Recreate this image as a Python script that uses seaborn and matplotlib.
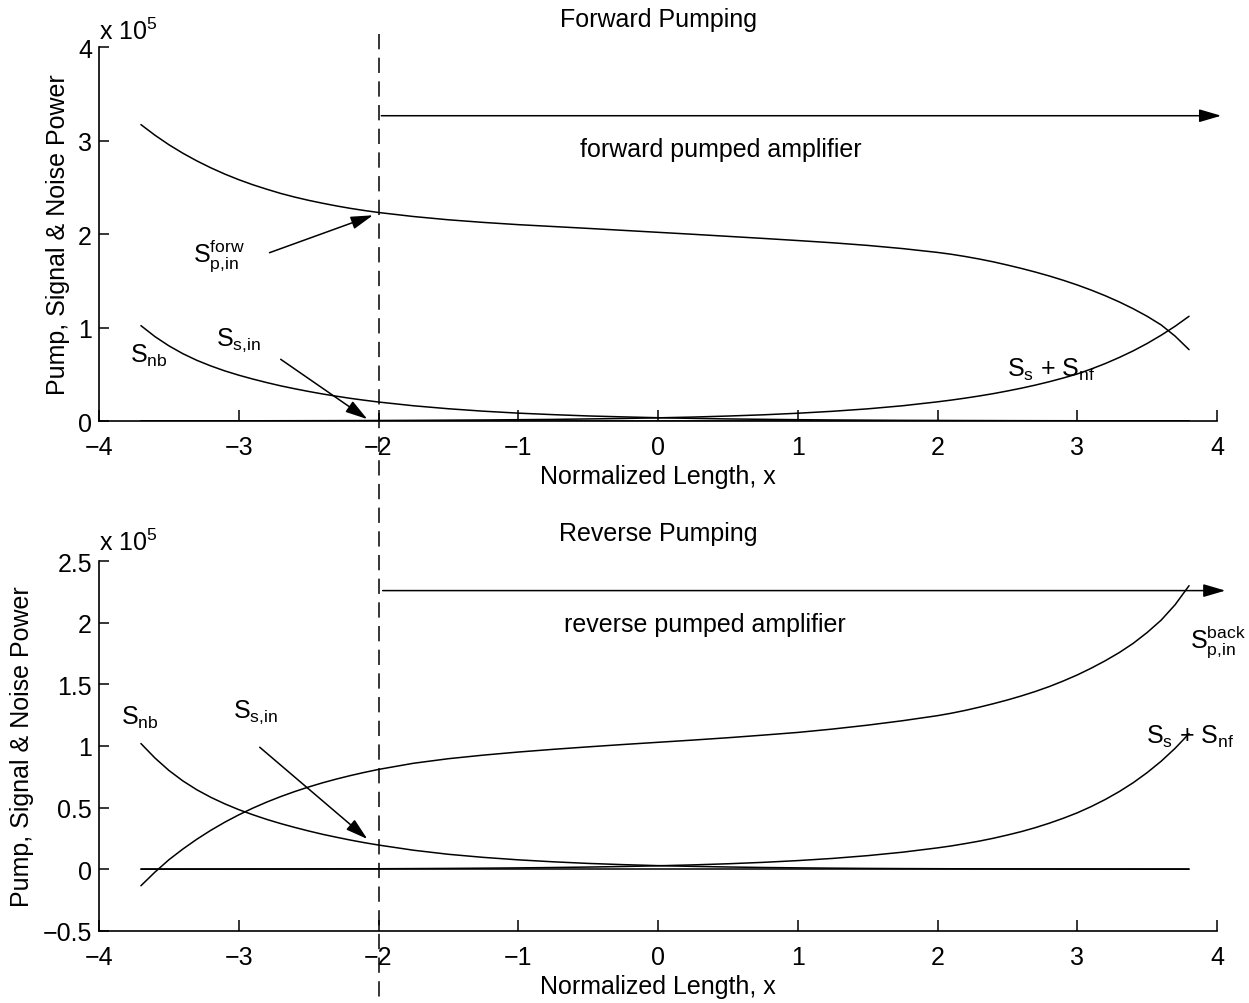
import numpy as np
import pandas as pd
import matplotlib
matplotlib.use("Agg")
import matplotlib.pyplot as plt
import matplotlib.transforms as mtransforms
from matplotlib.lines import Line2D
from matplotlib.ticker import FuncFormatter, FixedLocator
import seaborn as sns

# Normalized position along the fibre
x_pos = [-3.7, -3.6, -3.5, -3.4, -3.3, -3.2, -3.1, -3.0, -2.9, -2.8, -2.7,
         -2.6, -2.5, -2.4, -2.3, -2.2, -2.1, -2.0,
         -1.75, -1.5, -1.25, -1.0, -0.75, -0.5, -0.25, 0.0, 0.25, 0.5, 0.75,
         1.0, 1.25, 1.5, 1.75,
         2.0, 2.1, 2.2, 2.3, 2.4, 2.5, 2.6, 2.7, 2.8, 2.9, 3.0, 3.1, 3.2,
         3.3, 3.4, 3.5, 3.6, 3.7, 3.8]

# Forward pumping (powers in units of 1e5)
pump_fwd = [3.17, 3.057, 2.955, 2.864, 2.782, 2.708, 2.641, 2.581, 2.527,
            2.479, 2.434, 2.395, 2.360, 2.329, 2.300, 2.274, 2.251, 2.230,
            2.187, 2.152, 2.124, 2.100, 2.080, 2.060, 2.039, 2.018, 1.997,
            1.975, 1.953, 1.930, 1.906, 1.878, 1.844,
            1.803, 1.783, 1.759, 1.732, 1.702, 1.668, 1.632, 1.593, 1.551,
            1.505, 1.455, 1.400, 1.340, 1.274, 1.201, 1.120, 1.028, 0.908,
            0.763]
noise_back_fwd = [1.02, 0.903, 0.804, 0.720, 0.649, 0.589, 0.536, 0.490, 0.449,
                  0.411, 0.376, 0.345, 0.316, 0.289, 0.265, 0.242, 0.222, 0.203,
                  0.163, 0.131, 0.105, 0.084, 0.068, 0.054, 0.044, 0.035, 0.028,
                  0.022, 0.018, 0.014, 0.011, 0.009, 0.007,
                  0.006, 0.0055, 0.005, 0.0047, 0.0044, 0.004, 0.0037, 0.0034,
                  0.0031, 0.0029, 0.0027, 0.0025, 0.0023, 0.0021, 0.0019,
                  0.0017, 0.0016, 0.0014, 0.0013]
sig_noise_fwd = [0.0012, 0.0013, 0.0014, 0.0015, 0.0017, 0.0018, 0.002, 0.0022,
                 0.0024, 0.0026, 0.0029, 0.0032, 0.0035, 0.0038, 0.0042,
                 0.0046, 0.005, 0.0055,
                 0.007, 0.009, 0.011, 0.014, 0.017, 0.022, 0.027, 0.034, 0.042,
                 0.053, 0.066, 0.083, 0.104, 0.130, 0.163,
                 0.205, 0.224, 0.245, 0.268, 0.293, 0.321, 0.351, 0.384, 0.420,
                 0.460, 0.503, 0.556, 0.614, 0.679, 0.750, 0.829, 0.917, 1.013,
                 1.12]

# Reverse pumping (powers in units of 1e5)
pump_rev = [-0.133, -0.023, 0.0775, 0.1645, 0.244, 0.3164, 0.3821, 0.4417,
            0.4959, 0.5451, 0.5898, 0.6305, 0.6677, 0.7016, 0.7323, 0.7605,
            0.7863, 0.81,
            0.86, 0.897, 0.926, 0.951, 0.973, 0.993, 1.012, 1.03, 1.048, 1.067,
            1.088, 1.11, 1.1375, 1.169, 1.205,
            1.246, 1.266, 1.289, 1.315, 1.343, 1.373, 1.406, 1.442, 1.482,
            1.527, 1.576, 1.631, 1.691, 1.757, 1.832, 1.920, 2.020, 2.145,
            2.300]
noise_back_rev = [1.02, 0.903, 0.802, 0.717, 0.645, 0.584, 0.531, 0.484, 0.443,
                  0.405, 0.371, 0.340, 0.311, 0.284, 0.260, 0.237, 0.216, 0.197,
                  0.155, 0.122, 0.097, 0.077, 0.061, 0.048, 0.038, 0.030, 0.024,
                  0.019, 0.015, 0.012, 0.0095, 0.0075, 0.006,
                  0.005, 0.0046, 0.0042, 0.0039, 0.0036, 0.0033, 0.003, 0.0028,
                  0.0026, 0.0024, 0.0022, 0.002, 0.0018, 0.0017, 0.0015, 0.0014,
                  0.0013, 0.0012, 0.0011]
sig_noise_rev = [0.0011, 0.0012, 0.0013, 0.0014, 0.0015, 0.0016, 0.0018,
                 0.0019, 0.0021, 0.0023, 0.0025, 0.0027, 0.003, 0.0033, 0.0036,
                 0.004, 0.0044, 0.0048,
                 0.006, 0.0075, 0.0094, 0.0117, 0.0147, 0.0184, 0.023, 0.0288,
                 0.036, 0.0451, 0.0565, 0.0708, 0.0886, 0.111, 0.139,
                 0.174, 0.190, 0.209, 0.229, 0.252, 0.278, 0.306, 0.338, 0.374,
                 0.414, 0.458, 0.509, 0.566, 0.630, 0.702, 0.784, 0.876, 0.981,
                 1.10]

# Input signal level (flat along the fibre)
signal_in = [0.0] * len(x_pos)

x_ticks = [-4, -3, -2, -1, 0, 1, 2, 3, 4]
y_ticks_fwd = [0, 1, 2, 3, 4]
y_ticks_rev = [-0.5, 0, 0.5, 1, 1.5, 2, 2.5]

sns.set_theme(style="ticks")
plt.rcParams["font.family"] = ["Liberation Sans", "DejaVu Sans"]
plt.rcParams["font.size"] = 18
plt.rcParams["text.color"] = "black"
plt.rcParams["axes.labelcolor"] = "black"
plt.rcParams["mathtext.fontset"] = "custom"
plt.rcParams["mathtext.rm"] = "Liberation Sans"
plt.rcParams["mathtext.it"] = "Liberation Sans"
plt.rcParams["mathtext.bf"] = "Liberation Sans:bold"
plt.rcParams["axes.unicode_minus"] = True

W, H = 1249, 1004
fig = plt.figure(figsize=(W / 100, H / 100), dpi=100)
ax1 = fig.add_axes([99 / W, 1 - 422 / H, (1217 - 99) / W, (422 - 48) / H])
ax2 = fig.add_axes([99 / W, 1 - 932 / H, (1217 - 99) / W, (932 - 562) / H])

LW = 1.1
fmt = FuncFormatter(lambda v, p: f"{v:g}".replace("-", "\u2212"))


def style_axes(ax, ylim, yticks, title):
    ax.set_xlim(-4, 4)
    ax.set_ylim(*ylim)
    ax.xaxis.set_major_locator(FixedLocator(x_ticks))
    ax.yaxis.set_major_locator(FixedLocator(yticks))
    ax.xaxis.set_major_formatter(fmt)
    ax.yaxis.set_major_formatter(fmt)
    for s in ("top", "right"):
        ax.spines[s].set_visible(False)
    for s in ("left", "bottom"):
        ax.spines[s].set_linewidth(1.2)
        ax.spines[s].set_color("black")
    ax.tick_params(axis="x", direction="in", length=8, width=1.1, pad=10,
                   labelsize=18, colors="black")
    ax.tick_params(axis="y", direction="in", length=7.5, width=1.1, pad=5,
                   labelsize=18, colors="black")
    ax.set_xlabel("Normalized Length, x", fontsize=18, labelpad=4,
                  color="black")
    ax.set_ylabel("Pump, Signal & Noise Power", fontsize=18, labelpad=6,
                  color="black")
    ax.set_title(title, fontsize=18, pad=15, color="black")
    ax.set_facecolor("white")


def curve(ax, y):
    sns.lineplot(x=x_pos, y=y, ax=ax, color="black", linewidth=LW,
                 sort=False, estimator=None, legend=False)


def arrow(ax, tail, tip):
    ax.annotate("", xy=tip, xytext=tail, annotation_clip=False,
                arrowprops=dict(arrowstyle="-|>,head_length=0.75,head_width=0.22",
                                mutation_scale=18, color="black", lw=LW,
                                shrinkA=0, shrinkB=0))


def label(ax, x, y, s):
    ax.text(x, y, s, fontsize=18, ha="left", va="baseline", color="black")


S_NB = r"$\mathrm{S}_{\mathrm{nb}}$"
S_SIN = r"$\mathrm{S}_{\mathrm{s{,}in}}$"
S_SUM = r"$\mathrm{S}_{\mathrm{s}}$ + $\mathrm{S}_{\mathrm{nf}}$"

# ---- Forward pumping ----
for series in (pump_fwd, noise_back_fwd, sig_noise_fwd, signal_in):
    curve(ax1, series)
style_axes(ax1, (0, 4), y_ticks_fwd, "Forward Pumping")
arrow(ax1, (-1.98, 3.265), (4.03, 3.265))
label(ax1, -0.56, 2.83, "forward pumped amplifier")
arrow(ax1, (-2.78, 1.80), (-2.04, 2.20))
label(ax1, -3.33, 1.71, r"$\mathrm{S}^{\mathrm{forw}}_{\mathrm{p{,}in}}$")
arrow(ax1, (-2.70, 0.66), (-2.08, 0.02))
label(ax1, -3.16, 0.82, S_SIN)
label(ax1, -3.78, 0.63, S_NB)
label(ax1, 2.50, 0.48, S_SUM)
ax1.text(0.0, 1.022, r"x 10$^{\mathrm{5}}$", transform=ax1.transAxes,
         fontsize=18, ha="left", va="baseline", color="black")

# ---- Reverse pumping ----
for series in (pump_rev, noise_back_rev, sig_noise_rev, signal_in):
    curve(ax2, series)
style_axes(ax2, (-0.5, 2.5), y_ticks_rev, "Reverse Pumping")
arrow(ax2, (-1.97, 2.26), (4.06, 2.26))
label(ax2, -0.67, 1.93, "reverse pumped amplifier")
arrow(ax2, (-2.85, 0.99), (-2.08, 0.246))
label(ax2, -3.04, 1.236, S_SIN)
label(ax2, -3.84, 1.18, S_NB)
label(ax2, 3.81, 1.80, r"$\mathrm{S}^{\mathrm{back}}_{\mathrm{p{,}in}}$")
label(ax2, 3.49, 1.03, S_SUM)
ax2.text(0.0, 1.03, r"x 10$^{\mathrm{5}}$", transform=ax2.transAxes,
         fontsize=18, ha="left", va="baseline", color="black")

# Dashed marker at x = -2 running through both panels
trans = mtransforms.blended_transform_factory(ax1.transData, fig.transFigure)
fig.add_artist(Line2D([-2, -2], [1 - 35 / H, 1 - 1000 / H], transform=trans,
                      color="black", lw=1.1, linestyle=(0, (10, 5.5))))

fig.savefig("out.png", dpi=100, facecolor="white")
